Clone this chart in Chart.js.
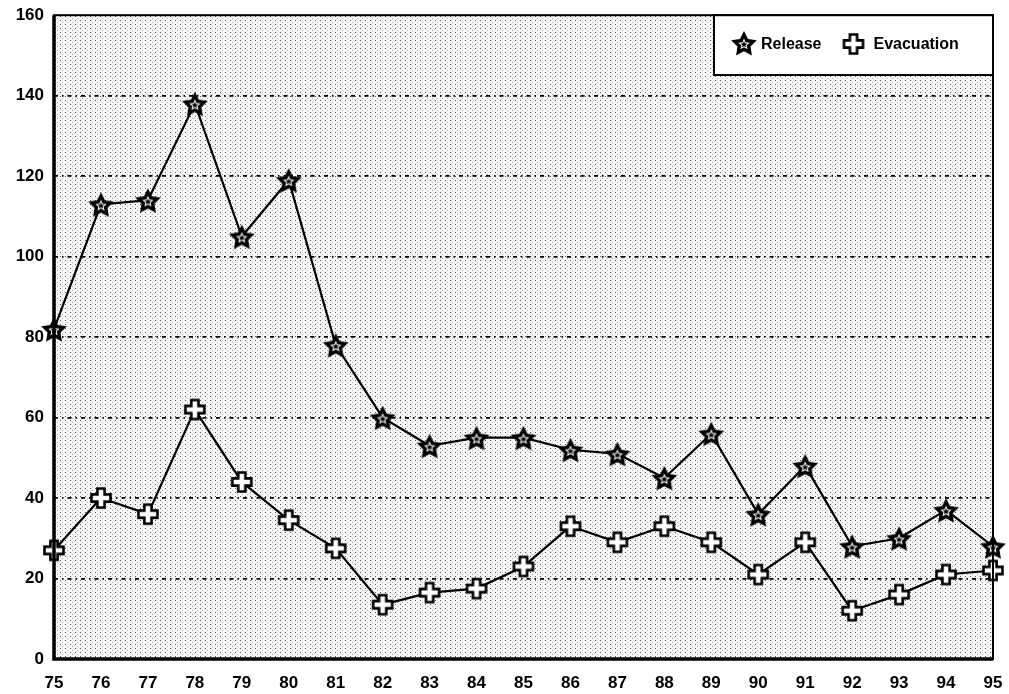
<!DOCTYPE html>
<html><head><meta charset="utf-8">
<script src="https://cdn.jsdelivr.net/npm/chart.js@4"></script>
<style>html,body{margin:0;padding:0;background:#fff;}#wrap{width:1009px;height:694px;}</style>
</head><body><div id="wrap"><canvas id="c" width="1009" height="694"></canvas></div>
<script>
const years = ['75','76','77','78','79','80','81','82','83','84','85','86','87','88','89','90','91','92','93','94','95'];
const releaseValues = [82,113,114,138,105,119,78,60,53,55,55,52,51,45,56,36,48,28,30,37,28];
const evacuationValues = [27,40,36,62,44,34.5,27.5,13.5,16.5,17.5,23,33,29,33,29,21,29,12,16,21,22];
const yTicks = [0,20,40,60,80,100,120,140,160];
const seriesLabels = ['Release','Evacuation'];

const FONT='"Liberation Sans", Arial, Helvetica, sans-serif';

function starCanvas(){
  const s=30,c=document.createElement('canvas');c.width=s;c.height=s;const g=c.getContext('2d');
  function star(r,ri,fill){g.beginPath();for(let i=0;i<10;i++){const a=-Math.PI/2+i*Math.PI/5;const rr=i%2?ri:r;const x=s/2+rr*Math.cos(a),y=s/2+1.5+rr*Math.sin(a);i?g.lineTo(x,y):g.moveTo(x,y);}g.closePath();g.fillStyle=fill;g.fill();}
  star(13.5,6.8,'#000');star(6,2.8,'#fff');star(3.5,1.6,'#000');
  return c;
}
function crossCanvas(){
  const s=24,c=document.createElement('canvas');c.width=s;c.height=s;const g=c.getContext('2d');
  const a=3.6,b=9.5,m=s/2;
  g.beginPath();
  g.moveTo(m-a,m-b);g.lineTo(m+a,m-b);g.lineTo(m+a,m-a);g.lineTo(m+b,m-a);g.lineTo(m+b,m+a);g.lineTo(m+a,m+a);g.lineTo(m+a,m+b);g.lineTo(m-a,m+b);g.lineTo(m-a,m+a);g.lineTo(m-b,m+a);g.lineTo(m-b,m-a);g.lineTo(m-a,m-a);g.closePath();
  g.fillStyle='#fff';g.fill();g.lineWidth=2.6;g.strokeStyle='#000';g.stroke();
  return c;
}
const starImg=starCanvas(), crossImg=crossCanvas();

function dotPattern(ctx){
  const p=document.createElement('canvas');p.width=5;p.height=4;const g=p.getContext('2d');
  g.fillStyle='#f7f7f7';g.fillRect(0,0,5,4);
  g.fillStyle='#555';g.fillRect(0,0,1,1);g.fillStyle='#b5b5b5';g.fillRect(2,2,1,1);
  return ctx.createPattern(p,'repeat');
}

const bgPlugin={id:'bg',beforeDraw(chart){const {ctx,chartArea:a}=chart;ctx.save();ctx.fillStyle=dotPattern(ctx);ctx.fillRect(a.left,a.top,a.right-a.left,a.bottom-a.top);ctx.restore();}};
const framePlugin={id:'frame',afterDatasetsDraw(chart){const {ctx,chartArea:a}=chart;ctx.save();ctx.strokeStyle='#000';
  ctx.lineWidth=2;ctx.strokeRect(a.left,a.top,a.right-a.left,a.bottom-a.top);
  ctx.lineWidth=3.5;ctx.beginPath();ctx.moveTo(a.left,a.top);ctx.lineTo(a.left,a.bottom);ctx.lineTo(a.right,a.bottom);ctx.stroke();
  // legend box
  const x0=714,y0=a.top,x1=a.right,y1=75;
  ctx.fillStyle='#fff';ctx.fillRect(x0,y0,x1-x0,y1-y0);ctx.lineWidth=2;ctx.strokeRect(x0,y0,x1-x0,y1-y0);
  ctx.font='bold 16px '+FONT;ctx.fillStyle='#000';ctx.textBaseline='middle';
  const ly=44;
  ctx.drawImage(starImg,744-15,ly-16);
  ctx.fillText(seriesLabels[0],761,ly+1);
  const w=ctx.measureText(seriesLabels[0]).width;
  const cx=761+w+32;
  ctx.drawImage(crossImg,cx-12,ly-12);
  ctx.fillText(seriesLabels[1],cx+20,ly+1);
  ctx.restore();}};

new Chart(document.getElementById('c'),{
  type:'line',
  data:{labels:years,datasets:[
    {label:seriesLabels[0],data:releaseValues,borderColor:'#000',borderWidth:2.2,pointStyle:starImg,pointRadius:13,tension:0},
    {label:seriesLabels[1],data:evacuationValues,borderColor:'#000',borderWidth:2.2,pointStyle:crossImg,pointRadius:12,tension:0}
  ]},
  options:{responsive:false,animation:false,
    layout:{padding:{top:14,right:16,left:0,bottom:0}},
    plugins:{legend:{display:false},tooltip:{enabled:false}},
    scales:{
      x:{offset:false,grid:{display:false},border:{display:false},
        ticks:{color:'#000',font:{family:FONT,size:17,weight:'bold'},padding:6,maxRotation:0,autoSkip:false},
        afterFit(s){s.height=35;}},
      y:{min:0,max:160,afterBuildTicks(s){s.ticks=yTicks.map(v=>({value:v}));},
        grid:{color(ctx){return (ctx.tick&&ctx.tick.value>0&&ctx.tick.value<160)?'#000':'rgba(0,0,0,0)';},lineWidth:1.8,drawTicks:false},
        border:{display:false,dash:[4,4,1.5,4]},
        ticks:{color:'#000',font:{family:FONT,size:17,weight:'bold'},padding:10},
        afterFit(s){s.width=54;s.paddingTop=0;s.paddingBottom=0;}}
    }},
  plugins:[bgPlugin,framePlugin]
});
</script></body></html>
